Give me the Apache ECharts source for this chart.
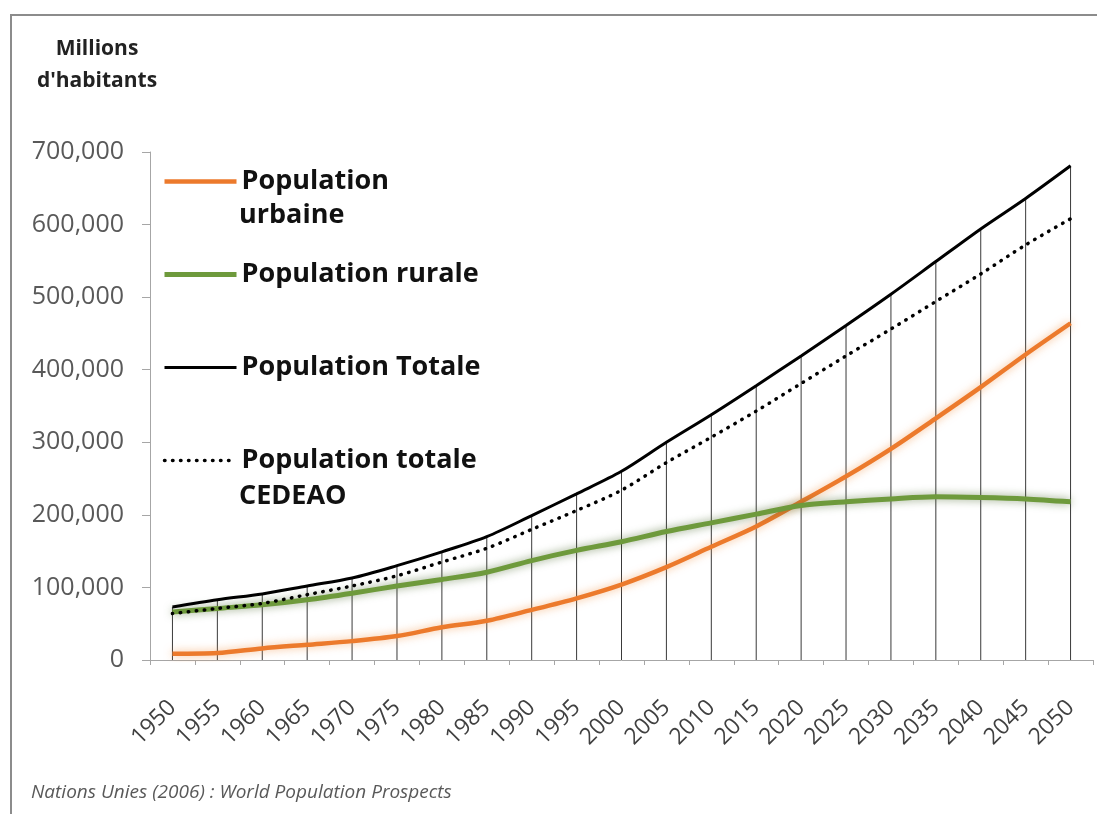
<!DOCTYPE html>
<html lang="fr">
<head>
  <meta charset="UTF-8">
  <title>Population CEDEAO</title>
  <script src="https://cdn.jsdelivr.net/npm/echarts@6/dist/echarts.min.js"></script>
  <style>
    html, body { margin: 0; padding: 0; background: #fff; }
    #chart { width: 1097px; height: 814px; }
  </style>
</head>
<body>
  <div id="chart"></div>
  <script>
    // annees
    var years = ['1950','1955','1960','1965','1970','1975','1980','1985','1990','1995','2000',
                 '2005','2010','2015','2020','2025','2030','2035','2040','2045','2050'];
    // valeurs
    var urbaine = [8500, 9500, 16000, 21000, 26000, 33000, 45000, 54000, 69000, 85000, 104000,
                   128000, 156000, 184000, 218000, 253000, 291000, 333000, 376000, 421000, 464000];
    var rurale = [66000, 71000, 76000, 83000, 92000, 102000, 111000, 121000, 137000, 151000, 163000,
                  177000, 189000, 201000, 213000, 218000, 222000, 225000, 224000, 222000, 218000];
    var totale = [73000, 83000, 91000, 102000, 113000, 130000, 149000, 170000, 199000, 229000, 260000,
                  300000, 338000, 378000, 419000, 461000, 504000, 549000, 594000, 636000, 681000];
    var cedeao = [64000, 71000, 78000, 90000, 102000, 116000, 135000, 154000, 180000, 206000, 234000,
                  272000, 307000, 343000, 381000, 419000, 456000, 494000, 532000, 572000, 608000];

    var chart = echarts.init(document.getElementById('chart'), null, {renderer: 'canvas'});

    var font = '"Open Sans", Lato, sans-serif';

    var option = {
      animation: false,
      backgroundColor: '#fff',
      grid: { left: 150, right: 4, top: 152, bottom: 154 },
      graphic: [
        { type: 'rect', shape: { x: 11, y: 15, width: 1100, height: 820 },
          style: { fill: 'none', stroke: '#8c8c8c', lineWidth: 2 } },
        { type: 'text',
          style: { text: 'Millions\nd\'habitants', fill: '#222', font: 'bold 21px ' + font,
                   textAlign: 'center', lineHeight: 32, x: 97, y: 33 } },
        { type: 'text',
          style: { text: 'Nations Unies (2006) : World Population Prospects', fill: '#595959',
                   font: 'italic 19px ' + font, x: 31, y: 793, textVerticalAlign: 'middle' } },
        // seconde ligne des libelles de legende
        { type: 'text',
          style: { text: 'urbaine', fill: '#111', font: 'bold 27px ' + font, x: 239, y: 215, textVerticalAlign: 'middle' } },
        { type: 'text',
          style: { text: 'CEDEAO', fill: '#111', font: 'bold 27px ' + font, x: 239, y: 496, textVerticalAlign: 'middle' } }
      ],
      legend: {
        orient: 'vertical',
        left: 157,
        top: 163,
        itemWidth: 72,
        itemHeight: 14,
        itemGap: 66,
        data: ['Population urbaine', 'Population rurale', 'Population Totale', 'Population totale CEDEAO'],
        formatter: function (name) {
          if (name == 'Population urbaine') return 'Population';
          if (name == 'Population totale CEDEAO') return 'Population totale';
          return name;
        },
        itemStyle: { opacity: 0 },
        lineStyle: { width: 'inherit' },
        textStyle: { fontFamily: font, fontWeight: 'bold', fontSize: 27, color: '#111' }
      },
      xAxis: {
        type: 'category',
        data: years,
        boundaryGap: true,
        axisLine: { lineStyle: { color: '#a6a6a6', width: 1 } },
        axisTick: { show: true, length: 5, lineStyle: { color: '#a6a6a6' } },
        axisLabel: { rotate: 45, interval: 0, color: '#404040', fontFamily: font, fontSize: 23, margin: 44 },
        splitLine: { show: false }
      },
      yAxis: {
        type: 'value',
        min: 0,
        max: 700000,
        interval: 100000,
        axisLine: { show: true, lineStyle: { color: '#a6a6a6', width: 1 } },
        axisTick: { show: true, length: 8, lineStyle: { color: '#a6a6a6' } },
        axisLabel: {
          color: '#595959', fontFamily: font, fontSize: 25, margin: 26,
          formatter: function (v) { return v.toLocaleString('en-US'); }
        },
        splitLine: { show: false }
      },
      series: [
        // lignes de projection verticales
        {
          name: 'drop',
          type: 'bar',
          data: totale,
          barWidth: 1,
          itemStyle: { color: '#3a3a3a' },
          silent: true,
          z: 1
        },
        {
          name: 'Population urbaine',
          type: 'line',
          data: urbaine,
          smooth: 0.3,
          symbol: 'none',
          lineStyle: { color: '#ec7a2c', width: 4.5, shadowColor: 'rgba(240,140,60,0.6)', shadowBlur: 8 },
          itemStyle: { color: '#ec7a2c' },
          z: 3
        },
        {
          name: 'Population rurale',
          type: 'line',
          data: rurale,
          smooth: 0.3,
          symbol: 'none',
          lineStyle: { color: '#6e9a3c', width: 5, shadowColor: 'rgba(70,100,40,0.6)', shadowBlur: 8 },
          itemStyle: { color: '#6e9a3c' },
          z: 3
        },
        {
          name: 'Population Totale',
          type: 'line',
          data: totale,
          smooth: 0.3,
          symbol: 'none',
          lineStyle: { color: '#000', width: 3 },
          itemStyle: { color: '#000' },
          z: 4
        },
        {
          name: 'Population totale CEDEAO',
          type: 'line',
          data: cedeao,
          smooth: 0.3,
          symbol: 'none',
          lineStyle: { color: '#000', width: 3.5, type: [0.5, 7.5], cap: 'round' },
          itemStyle: { color: '#000' },
          z: 4
        }
      ]
    };

    chart.setOption(option);
  </script>
</body>
</html>
